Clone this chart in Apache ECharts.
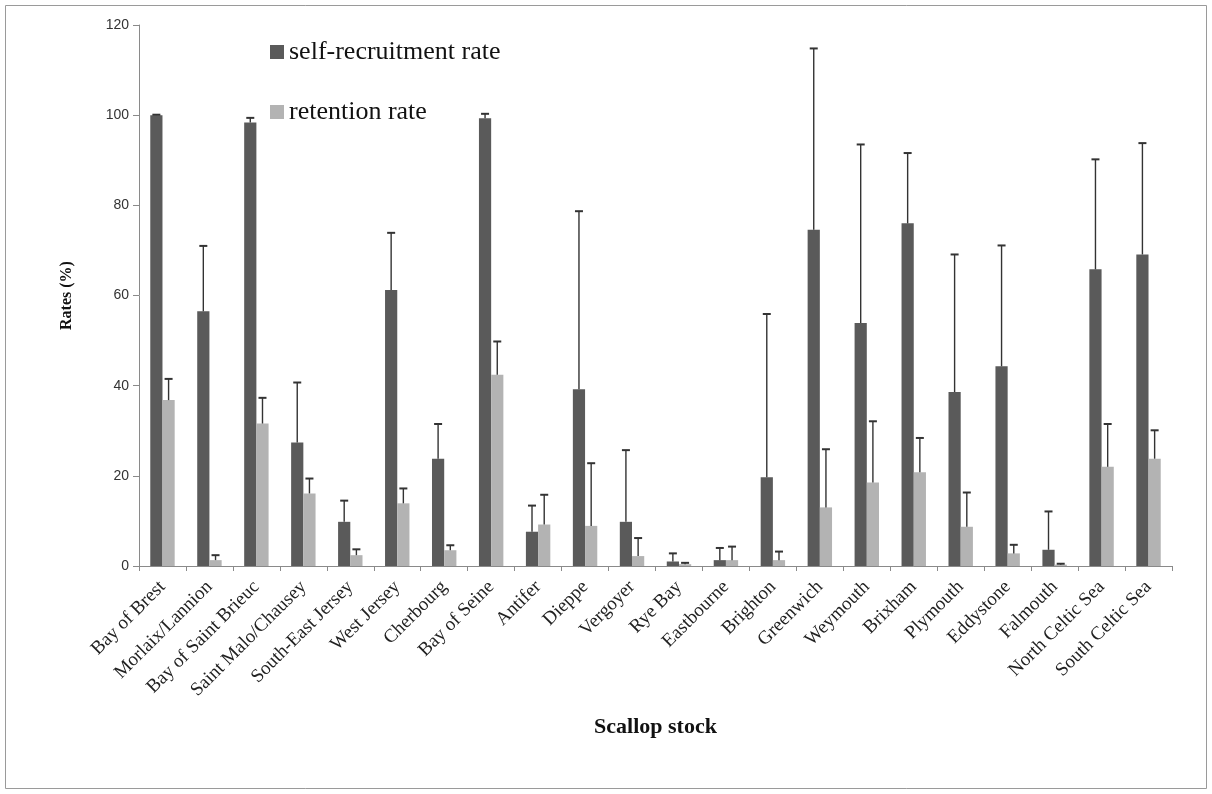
<!DOCTYPE html>
<html>
<head>
<meta charset="utf-8">
<title>Scallop stock rates</title>
<script src="https://cdn.jsdelivr.net/npm/echarts@6/dist/echarts.min.js"></script>
<style>
  html, body { margin: 0; padding: 0; background: #fff; }
  #chart { width: 1212px; height: 794px; }
</style>
</head>
<body>
<div id="chart"></div>
<script>
// Scallop stocks along the x axis
const stocks = [
  'Bay of Brest', 'Morlaix/Lannion', 'Bay of Saint Brieuc', 'Saint Malo/Chausey',
  'South-East Jersey', 'West Jersey', 'Cherbourg', 'Bay of Seine', 'Antifer',
  'Dieppe', 'Vergoyer', 'Rye Bay', 'Eastbourne', 'Brighton', 'Greenwich',
  'Weymouth', 'Brixham', 'Plymouth', 'Eddystone', 'Falmouth',
  'North Celtic Sea', 'South Celtic Sea'
];

// Self-recruitment rate (%) and its standard deviation
const selfRecruitment = [100, 56.5, 98.4, 27.4, 9.8, 61.2, 23.8, 99.3, 7.6, 39.2, 9.8,
  1.0, 1.3, 19.7, 74.6, 53.9, 76.0, 38.6, 44.3, 3.6, 65.8, 69.1];
const selfRecruitmentSd = [0.1, 14.5, 1.0, 13.3, 4.7, 12.7, 7.7, 1.0, 5.8, 39.5, 15.9,
  1.8, 2.7, 36.2, 40.2, 39.6, 15.6, 30.5, 26.8, 8.5, 24.4, 24.7];

// Retention rate (%) and its standard deviation
const retention = [36.8, 1.3, 31.6, 16.1, 2.4, 13.9, 3.5, 42.4, 9.2, 8.9, 2.2,
  0.4, 1.3, 1.3, 13.0, 18.5, 20.8, 8.7, 2.8, 0.3, 22.0, 23.8];
const retentionSd = [4.7, 1.1, 5.7, 3.3, 1.3, 3.3, 1.1, 7.4, 6.6, 13.9, 4.0,
  0.3, 3.0, 1.9, 12.9, 13.6, 7.6, 7.6, 1.9, 0.2, 9.5, 6.3];

// Y axis ticks
const yMin = 0, yMax = 120, yStep = 20;

const DARK = '#5a5a5a';
const LIGHT = '#b3b3b3';
const AXIS = '#8a8a8a';
const BAR_FRAC = 0.26;           // bar width as a share of the category band
const SERIF = '"Liberation Serif", "Times New Roman", serif';
const SANS = '"Liberation Sans", Arial, sans-serif';

// Upward error bar drawn at the centre of one bar of the pair (side = -1 left, +1 right)
function errorBarRenderer(side) {
  return function (params, api) {
    const i = api.value(0);
    const base = api.coord([i, api.value(1)]);
    const top = api.coord([i, api.value(2)]);
    const band = api.size([1, 0])[0];
    const x = base[0] + side * band * BAR_FRAC / 2;
    const cap = 4;
    return {
      type: 'group',
      children: [
        { type: 'line', shape: { x1: x, y1: base[1], x2: x, y2: top[1] },
          style: { stroke: '#333', lineWidth: 1.4 } },
        { type: 'line', shape: { x1: x - cap, y1: top[1], x2: x + cap, y2: top[1] },
          style: { stroke: '#333', lineWidth: 2 } }
      ]
    };
  };
}

const selfErr = selfRecruitment.map((v, i) => [i, v, v + selfRecruitmentSd[i]]);
const retErr = retention.map((v, i) => [i, v, v + retentionSd[i]]);

const chart = echarts.init(document.getElementById('chart'), null, { renderer: 'canvas' });

chart.setOption({
  backgroundColor: '#ffffff',
  animation: false,
  graphic: [{
    type: 'rect',
    shape: { x: 5.5, y: 5.5, width: 1201, height: 783 },
    style: { fill: 'none', stroke: '#9a9a9a', lineWidth: 1 },
    silent: true
  }],
  legend: {
    orient: 'vertical',
    left: 265,
    top: 34,
    itemWidth: 14,
    itemHeight: 14,
    itemGap: 34,
    icon: 'rect',
    data: ['self-recruitment rate', 'retention rate'],
    textStyle: { fontFamily: SERIF, fontSize: 26, color: '#111' }
  },
  grid: { left: 139, right: 40, top: 25, bottom: 228, containLabel: false },
  xAxis: {
    type: 'category',
    data: stocks,
    boundaryGap: true,
    name: 'Scallop stock',
    nameLocation: 'middle',
    nameGap: 150,
    nameTextStyle: { fontFamily: SERIF, fontSize: 22, fontWeight: 'bold', color: '#111' },
    axisLine: { lineStyle: { color: AXIS, width: 1 } },
    axisTick: { show: true, interval: 0, length: 5, lineStyle: { color: AXIS } },
    axisLabel: {
      interval: 0, rotate: 45, margin: 18,
      fontFamily: SERIF, fontSize: 19, color: '#222'
    },
    splitLine: { show: false }
  },
  yAxis: {
    type: 'value',
    min: yMin, max: yMax, interval: yStep,
    name: 'Rates (%)',
    nameLocation: 'middle',
    nameGap: 64,
    nameRotate: 90,
    nameTextStyle: { fontFamily: SERIF, fontSize: 16, fontWeight: 'bold', color: '#111' },
    axisLine: { show: true, lineStyle: { color: AXIS, width: 1 } },
    axisTick: { show: true, inside: false, length: 6, lineStyle: { color: AXIS } },
    axisLabel: { fontFamily: SANS, fontSize: 14, color: '#333', margin: 10 },
    splitLine: { show: false }
  },
  series: [
    {
      name: 'self-recruitment rate',
      type: 'bar',
      data: selfRecruitment,
      barWidth: (BAR_FRAC * 100) + '%',
      barGap: '0%',
      itemStyle: { color: DARK },
      z: 2
    },
    {
      name: 'retention rate',
      type: 'bar',
      data: retention,
      barWidth: (BAR_FRAC * 100) + '%',
      barGap: '0%',
      itemStyle: { color: LIGHT },
      z: 2
    },
    {
      name: 'self-recruitment sd',
      type: 'custom',
      data: selfErr,
      encode: { x: 0, y: [1, 2] },
      renderItem: errorBarRenderer(-1),
      z: 5,
      silent: true
    },
    {
      name: 'retention sd',
      type: 'custom',
      data: retErr,
      encode: { x: 0, y: [1, 2] },
      renderItem: errorBarRenderer(1),
      z: 5,
      silent: true
    }
  ]
});
</script>
</body>
</html>
